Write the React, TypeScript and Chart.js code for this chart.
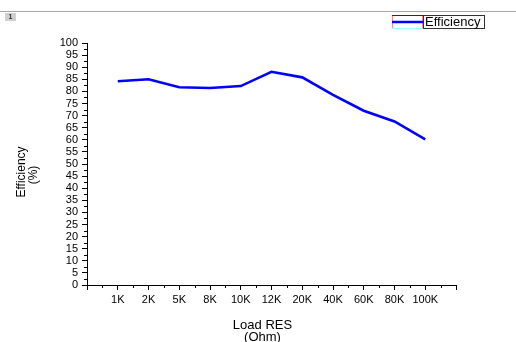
import { useEffect, useRef } from 'react';
import { Chart, registerables } from 'chart.js';

Chart.register(...registerables);

const categories = ['1K', '2K', '5K', '8K', '10K', '12K', '20K', '40K', '60K', '80K', '100K'];
const efficiency = [84.2, 85.0, 81.7, 81.4, 82.2, 88.1, 85.8, 78.6, 72.0, 67.6, 60.2];
const seriesLabel = 'Efficiency';
const yTitle = ['Efficiency', '(%)'];
const xTitle = ['Load RES', '(Ohm)'];
const pageLabel = '1';

const FONT = "'Liberation Sans', Arial, sans-serif";

const decor = {
  id: 'decor',
  beforeDraw(chart: any) {
    const ctx = chart.ctx;
    ctx.save();
    ctx.fillStyle = '#ffffff';
    ctx.fillRect(0, 0, chart.width, chart.height);
    ctx.strokeStyle = '#a8a8a8';
    ctx.lineWidth = 1;
    ctx.beginPath();
    ctx.moveTo(0, 11.5);
    ctx.lineTo(chart.width, 11.5);
    ctx.stroke();
    ctx.fillStyle = '#cfcfcf';
    ctx.fillRect(5, 13, 11, 8);
    ctx.fillStyle = '#333';
    ctx.font = `bold 7px ${FONT}`;
    ctx.textAlign = 'center';
    ctx.textBaseline = 'middle';
    ctx.fillText(pageLabel, 10.5, 17.5);
    ctx.restore();
  },
  afterDraw(chart: any) {
    const ctx = chart.ctx;
    const xs = chart.scales.x;
    const ys = chart.scales.y;
    const { left, bottom, right, top } = chart.chartArea;
    ctx.save();
    ctx.strokeStyle = '#000';
    ctx.lineWidth = 1;
    ctx.beginPath();
    for (let v = 2.5; v < 100; v += 5) {
      const py = Math.round(ys.getPixelForValue(v)) + 0.5;
      ctx.moveTo(left - 3, py);
      ctx.lineTo(left, py);
    }
    for (let v = -0.5; v < categories.length; v += 1) {
      const px = Math.round(xs.getPixelForValue(v)) + 0.5;
      ctx.moveTo(px, bottom);
      ctx.lineTo(px, bottom + 3);
    }
    ctx.stroke();

    ctx.fillStyle = '#000';
    ctx.font = `12px ${FONT}`;
    ctx.textAlign = 'center';
    ctx.textBaseline = 'middle';
    const cy = (top + bottom) / 2 + 8;
    ctx.save();
    ctx.translate(22, cy);
    ctx.rotate(-Math.PI / 2);
    ctx.fillText(yTitle[0], 0, 0);
    ctx.restore();
    ctx.save();
    ctx.translate(34, cy + 3);
    ctx.rotate(-Math.PI / 2);
    ctx.fillText(yTitle[1], 0, 0);
    ctx.restore();
    ctx.font = `13px ${FONT}`;
    const cx = (left + right) / 2 - 9;
    ctx.fillText(xTitle[0], cx, 325.5);
    ctx.fillText(xTitle[1], cx, 337.5);

    const ds = chart.data.datasets[0];
    const lx = 392, ly = 15, sw = 31, lh = 14, tw = 62;
    ctx.lineWidth = 1;
    ctx.strokeStyle = '#ff8a8a';
    ctx.beginPath();
    ctx.moveTo(lx + 0.5, ly);
    ctx.lineTo(lx + 0.5, ly + lh);
    ctx.moveTo(lx + sw - 0.5, ly);
    ctx.lineTo(lx + sw - 0.5, ly + lh);
    ctx.stroke();
    ctx.strokeStyle = '#8b0000';
    ctx.beginPath();
    ctx.moveTo(lx, ly + 0.5);
    ctx.lineTo(lx + sw, ly + 0.5);
    ctx.stroke();
    ctx.strokeStyle = '#a0ffff';
    ctx.beginPath();
    ctx.moveTo(lx, ly + lh - 0.5);
    ctx.lineTo(lx + sw, ly + lh - 0.5);
    ctx.stroke();
    ctx.strokeStyle = ds.borderColor;
    ctx.lineWidth = 2.5;
    ctx.beginPath();
    ctx.moveTo(lx, ly + 7);
    ctx.lineTo(lx + sw, ly + 7);
    ctx.stroke();
    ctx.lineWidth = 1;
    ctx.strokeStyle = '#333';
    ctx.strokeRect(lx + sw + 0.5, ly + 0.5, tw - 1, lh - 1);
    ctx.fillStyle = '#000';
    ctx.textAlign = 'left';
    ctx.font = `13px ${FONT}`;
    ctx.fillText(ds.label, lx + sw + 2, ly + 7.5);
    ctx.restore();
  },
};

export default function App() {
  const ref = useRef<HTMLCanvasElement | null>(null);

  useEffect(() => {
    if (!ref.current) return;
    const chart = new Chart(ref.current, {
      type: 'line',
      data: {
        datasets: [
          {
            label: seriesLabel,
            data: efficiency.map((v, i) => ({ x: i, y: v })),
            borderColor: '#0000ff',
            borderWidth: 2.6,
            pointRadius: 0,
            tension: 0,
            fill: false,
          },
        ],
      },
      options: {
        responsive: false,
        animation: false,
        layout: { padding: { top: 43, right: 60, left: 0, bottom: 0 } },
        plugins: {
          legend: { display: false },
          tooltip: { enabled: false },
        },
        scales: {
          x: {
            type: 'linear',
            min: -1,
            max: categories.length,
            afterFit: (s: any) => {
              s.height = 57;
            },
            afterBuildTicks: (s: any) => {
              const t = [];
              for (let i = -1; i <= categories.length; i++) t.push({ value: i });
              s.ticks = t;
            },
            grid: {
              drawOnChartArea: false,
              drawTicks: true,
              tickLength: 5,
              color: '#000',
            },
            border: { display: true, color: '#000', width: 1 },
            ticks: {
              autoSkip: false,
              maxRotation: 0,
              padding: 3,
              color: '#000',
              font: { family: FONT, size: 11 },
              callback: (v: any) => categories[v as number] ?? '',
            },
          },
          y: {
            type: 'linear',
            min: 0,
            max: 100,
            afterFit: (s: any) => {
              s.width = 87;
            },
            grid: {
              drawOnChartArea: false,
              drawTicks: true,
              tickLength: 5,
              color: '#000',
            },
            border: { display: true, color: '#000', width: 1 },
            ticks: {
              stepSize: 5,
              autoSkip: false,
              padding: 4,
              color: '#000',
              font: { family: FONT, size: 11 },
            },
          },
        },
      },
      plugins: [decor],
    });
    return () => chart.destroy();
  }, []);

  return (
    <div style={{ position: 'fixed', left: 0, top: 0, width: 516, height: 342, background: '#fff' }}>
      <canvas ref={ref} width={516} height={342} style={{ width: 516, height: 342, display: 'block' }} />
    </div>
  );
}
